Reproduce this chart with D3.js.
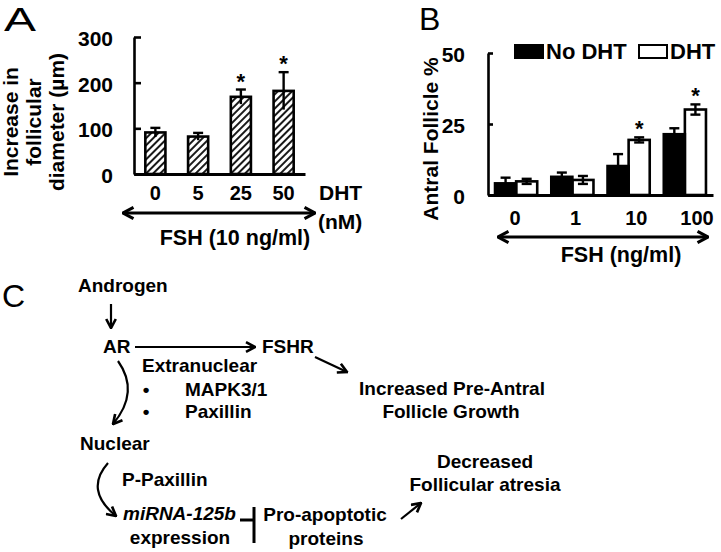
<!DOCTYPE html>
<html>
<head>
<meta charset="UTF-8">
<title>DHT / FSH follicle figure</title>
<script src="https://d3js.org/d3.v7.min.js"></script>
<style>
    body { margin: 0; background: #fff; }
    svg text { font-family: "Liberation Sans", Arial, sans-serif; font-weight: bold; fill: #000; }
</style>
</head>
<body>
<div id="fig"></div>
<script>
    // ---- panel A data: follicle diameter increase (um), FSH 10 ng/ml + DHT dose
    var dhtDoses = ["0", "5", "25", "50"];
    var diamMean = [91, 82, 169, 182];
    var diamErr = [10, 8, 16, 41];
    var diamSig = [false, false, true, true];
    var ticksA = [0, 100, 200, 300];

    // ---- panel B data: antral follicle % by FSH dose
    var fshDoses = ["0", "1", "10", "100"];
    var noDhtMean = [4.1, 6.4, 10.2, 21.4];
    var noDhtErr = [2.0, 1.5, 4.2, 2.1];
    var dhtMean = [4.8, 5.3, 19.4, 30.1];
    var dhtErr = [0.9, 1.4, 0.9, 1.8];
    var dhtSig = [false, false, true, true];
    var ticksB = [0, 25, 50];
    var seriesB = ["No DHT", "DHT"];

    var svg = d3.select("#fig").append("svg")
        .attr("width", 721)
        .attr("height", 552);

    var defs = svg.append("defs");

    // hatch pattern for panel A bars
    var hatch = defs.append("pattern")
        .attr("id", "hatch")
        .attr("patternUnits", "userSpaceOnUse")
        .attr("width", 5).attr("height", 5)
        .attr("patternTransform", "rotate(45)");
    hatch.append("rect").attr("width", 5).attr("height", 5).attr("fill", "#fff");
    hatch.append("line")
        .attr("x1", 1).attr("y1", 0).attr("x2", 1).attr("y2", 5)
        .attr("stroke", "#000").attr("stroke-width", 1.8);

    // open chevron arrow head
    function chevron(id, size) {
        defs.append("marker")
            .attr("id", id)
            .attr("viewBox", "0 0 10 10")
            .attr("refX", 9).attr("refY", 5)
            .attr("markerUnits", "userSpaceOnUse")
            .attr("markerWidth", size).attr("markerHeight", size)
            .attr("orient", "auto-start-reverse")
            .append("path")
            .attr("d", "M1.5,1 L9,5 L1.5,9")
            .attr("fill", "none")
            .attr("stroke", "#000")
            .attr("stroke-width", 2.2)
            .attr("stroke-linejoin", "miter");
    }
    chevron("headBig", 14);
    chevron("headSmall", 12);

    /*****************  Panel A  *****************/
    var xA = d3.scaleBand().domain(dhtDoses).range([134, 305])
        .paddingInner(0.53).paddingOuter(0.265);
    var yA = d3.scaleLinear().domain([0, 300]).range([174, 37]);

    svg.append("text").attr("x", 4).attr("y", 31)
        .attr("font-size", 34).style("font-weight", "normal")
        .attr("textLength", 32).attr("lengthAdjust", "spacingAndGlyphs")
        .text("A");

    var titleA = ["Increase in", "follicular", "diameter (\u00b5m)"];
    svg.append("g").selectAll("text").data(titleA).join("text")
        .attr("transform", (d, i) => "translate(" + (18 + i * 23) + ",122) rotate(-90)")
        .attr("text-anchor", "middle")
        .attr("font-size", 21)
        .text(d => d);

    var axA = svg.append("g").attr("transform", "translate(134,0)")
        .call(d3.axisLeft(yA).tickValues(ticksA).tickSize(-7).tickSizeOuter(0).tickPadding(21));
    axA.selectAll("text").attr("font-size", 21).attr("dy", "0.4em").attr("font-family", null);
    axA.selectAll("path, line").attr("stroke", "#000").attr("stroke-width", 2.6);

    var baseA = svg.append("g").attr("transform", "translate(0,174)")
        .call(d3.axisBottom(xA).tickSize(0).tickFormat(""));
    baseA.select("path").attr("stroke", "#000").attr("stroke-width", 2.8);

    svg.append("g").selectAll("rect").data(dhtDoses).join("rect")
        .attr("x", d => xA(d))
        .attr("y", (d, i) => yA(diamMean[i]))
        .attr("width", xA.bandwidth())
        .attr("height", (d, i) => yA(0) - yA(diamMean[i]))
        .attr("fill", "url(#hatch)")
        .attr("stroke", "#000").attr("stroke-width", 2.6);

    // error bars A (vertical + top cap)
    var errA = svg.append("g").attr("stroke", "#000").attr("stroke-width", 2.4);
    dhtDoses.forEach(function(d, i) {
        var cx = xA(d) + xA.bandwidth() / 2;
        errA.append("line").attr("x1", cx).attr("x2", cx)
            .attr("y1", yA(diamMean[i] - diamErr[i])).attr("y2", yA(diamMean[i] + diamErr[i]));
        errA.append("line").attr("x1", cx - 5).attr("x2", cx + 5)
            .attr("y1", yA(diamMean[i] + diamErr[i])).attr("y2", yA(diamMean[i] + diamErr[i]));
        if (diamSig[i]) {
            svg.append("text").attr("x", cx).attr("y", yA(diamMean[i] + diamErr[i]) - 1)
                .attr("text-anchor", "middle").attr("font-size", 22).text("*");
        }
    });

    svg.append("g").selectAll("text").data(dhtDoses).join("text")
        .attr("x", d => xA(d) + xA.bandwidth() / 2)
        .attr("y", 200)
        .attr("text-anchor", "middle")
        .attr("font-size", 20)
        .text(d => d);
    svg.append("text").attr("x", 319).attr("y", 200).attr("font-size", 21).text("DHT");
    svg.append("text").attr("x", 318).attr("y", 229).attr("font-size", 21).text("(nM)");

    svg.append("line").attr("x1", 123).attr("x2", 315).attr("y1", 213).attr("y2", 213)
        .attr("stroke", "#000").attr("stroke-width", 3)
        .attr("marker-start", "url(#headBig)").attr("marker-end", "url(#headBig)");
    svg.append("text").attr("x", 235).attr("y", 245).attr("text-anchor", "middle")
        .attr("font-size", 21.5).text("FSH (10 ng/ml)");

    /*****************  Panel B  *****************/
    var xB = d3.scaleBand().domain(fshDoses).range([488, 713])
        .paddingInner(0.25).paddingOuter(0.125);
    var xB1 = d3.scaleBand().domain(seriesB).range([0, xB.bandwidth()]);
    var yB = d3.scaleLinear().domain([0, 50]).range([195, 53]);
    var labB = d3.scalePoint().domain(fshDoses).range([515, 697]);

    svg.append("text").attr("x", 419).attr("y", 30)
        .attr("font-size", 32).style("font-weight", "normal").text("B");

    svg.append("text").attr("transform", "translate(438,139) rotate(-90)")
        .attr("text-anchor", "middle").attr("font-size", 21).text("Antral Follicle %");

    var axB = svg.append("g").attr("transform", "translate(488,0)")
        .call(d3.axisLeft(yB).tickValues(ticksB).tickSize(-5).tickSizeOuter(0).tickPadding(23));
    axB.selectAll("text").attr("font-size", 21).attr("dy", "0.4em").attr("font-family", null);
    axB.selectAll("path, line").attr("stroke", "#000").attr("stroke-width", 2.6);

    var groupsB = fshDoses.map(function(d, i) {
        return [
            {fsh: d, s: "No DHT", v: noDhtMean[i], e: noDhtErr[i], sig: false},
            {fsh: d, s: "DHT", v: dhtMean[i], e: dhtErr[i], sig: dhtSig[i]}
        ];
    });
    var barsB = d3.merge(groupsB);

    var errB = svg.append("g").attr("stroke", "#000").attr("stroke-width", 2.4);
    barsB.forEach(function(b) {
        var cx = xB(b.fsh) + xB1(b.s) + xB1.bandwidth() / 2;
        errB.append("line").attr("x1", cx).attr("x2", cx)
            .attr("y1", yB(b.v - b.e)).attr("y2", yB(b.v + b.e));
        errB.append("line").attr("x1", cx - 5).attr("x2", cx + 5)
            .attr("y1", yB(b.v + b.e)).attr("y2", yB(b.v + b.e));
        if (b.s == "DHT") {
            errB.append("line").attr("x1", cx - 5).attr("x2", cx + 5)
                .attr("y1", yB(b.v - b.e)).attr("y2", yB(b.v - b.e));
        }
        if (b.sig) {
            svg.append("text").attr("x", cx).attr("y", yB(b.v + b.e) - 1)
                .attr("text-anchor", "middle").attr("font-size", 22).text("*");
        }
    });

    svg.append("g").selectAll("rect").data(barsB).join("rect")
        .attr("x", d => xB(d.fsh) + xB1(d.s))
        .attr("y", d => yB(d.v))
        .attr("width", xB1.bandwidth())
        .attr("height", d => yB(0) - yB(d.v))
        .attr("fill", d => d.s == "DHT" ? "none" : "#000")
        .attr("stroke", "#000").attr("stroke-width", 2.6);

    var baseB = svg.append("g").attr("transform", "translate(0,195)")
        .call(d3.axisBottom(xB).tickSize(0).tickFormat(""));
    baseB.select("path").attr("stroke", "#000").attr("stroke-width", 2.8);

    svg.append("g").selectAll("text").data(fshDoses).join("text")
        .attr("x", d => labB(d)).attr("y", 225)
        .attr("text-anchor", "middle").attr("font-size", 20).text(d => d);

    svg.append("line").attr("x1", 498).attr("x2", 708).attr("y1", 237).attr("y2", 237)
        .attr("stroke", "#000").attr("stroke-width", 3)
        .attr("marker-start", "url(#headBig)").attr("marker-end", "url(#headBig)");
    svg.append("text").attr("x", 621).attr("y", 262).attr("text-anchor", "middle")
        .attr("font-size", 21.5).text("FSH (ng/ml)");

    // legend
    var legX = [515, 639];
    var leg = svg.append("g");
    seriesB.forEach(function(s, i) {
        leg.append("rect").attr("x", legX[i]).attr("y", 45).attr("width", 28).attr("height", 13)
            .attr("fill", i == 0 ? "#000" : "#fff").attr("stroke", "#000").attr("stroke-width", 2);
        leg.append("text").attr("x", legX[i] + 31).attr("y", 59).attr("font-size", 22).text(s);
    });

    /*****************  Panel C: pathway  *****************/
    svg.append("text").attr("x", 2).attr("y", 307)
        .attr("font-size", 32).style("font-weight", "normal").text("C");

    var labelsC = [
        {t: "Androgen", x: 78, y: 292, a: "start"},
        {t: "AR", x: 103, y: 353, a: "start"},
        {t: "FSHR", x: 262, y: 353, a: "start"},
        {t: "Extranuclear", x: 142, y: 372, a: "start"},
        {t: "\u2022", x: 146, y: 396, a: "middle"},
        {t: "MAPK3/1", x: 185, y: 396, a: "start"},
        {t: "\u2022", x: 146, y: 418, a: "middle"},
        {t: "Paxillin", x: 185, y: 418, a: "start"},
        {t: "Increased Pre-Antral", x: 452, y: 395, a: "middle"},
        {t: "Follicle Growth", x: 451, y: 418, a: "middle"},
        {t: "Nuclear", x: 80, y: 450, a: "start"},
        {t: "P-Paxillin", x: 122, y: 486, a: "start"},
        {t: "miRNA-125b", x: 123, y: 520, a: "start", it: true},
        {t: "expression", x: 180, y: 544, a: "middle"},
        {t: "Pro-apoptotic", x: 325, y: 521, a: "middle"},
        {t: "proteins", x: 326, y: 545, a: "middle"},
        {t: "Decreased", x: 485, y: 468, a: "middle"},
        {t: "Follicular atresia", x: 485, y: 491, a: "middle"}
    ];
    svg.append("g").selectAll("text").data(labelsC).join("text")
        .attr("x", d => d.x).attr("y", d => d.y)
        .attr("text-anchor", d => d.a)
        .attr("font-size", 19)
        .style("font-style", d => d.it ? "italic" : "normal")
        .text(d => d.t);

    var arrowsC = [
        "M111,304 L111,328",
        "M135,347 L255,347",
        "M315,357 L347,372",
        "M118,361 Q140,392 113,424",
        "M108,463 Q84,490 116,516",
        "M401,519 L421,503"
    ];
    svg.append("g").selectAll("path").data(arrowsC).join("path")
        .attr("d", d => d)
        .attr("fill", "none")
        .attr("stroke", "#000")
        .attr("stroke-width", 2.2)
        .attr("marker-end", "url(#headSmall)");

    // inhibition bar miRNA -| pro-apoptotic
    var inh = svg.append("g").attr("stroke", "#000").attr("stroke-width", 3);
    inh.append("line").attr("x1", 240).attr("x2", 254).attr("y1", 520).attr("y2", 520);
    inh.append("line").attr("x1", 254).attr("x2", 254).attr("y1", 507).attr("y2", 543);
</script>
</body>
</html>
